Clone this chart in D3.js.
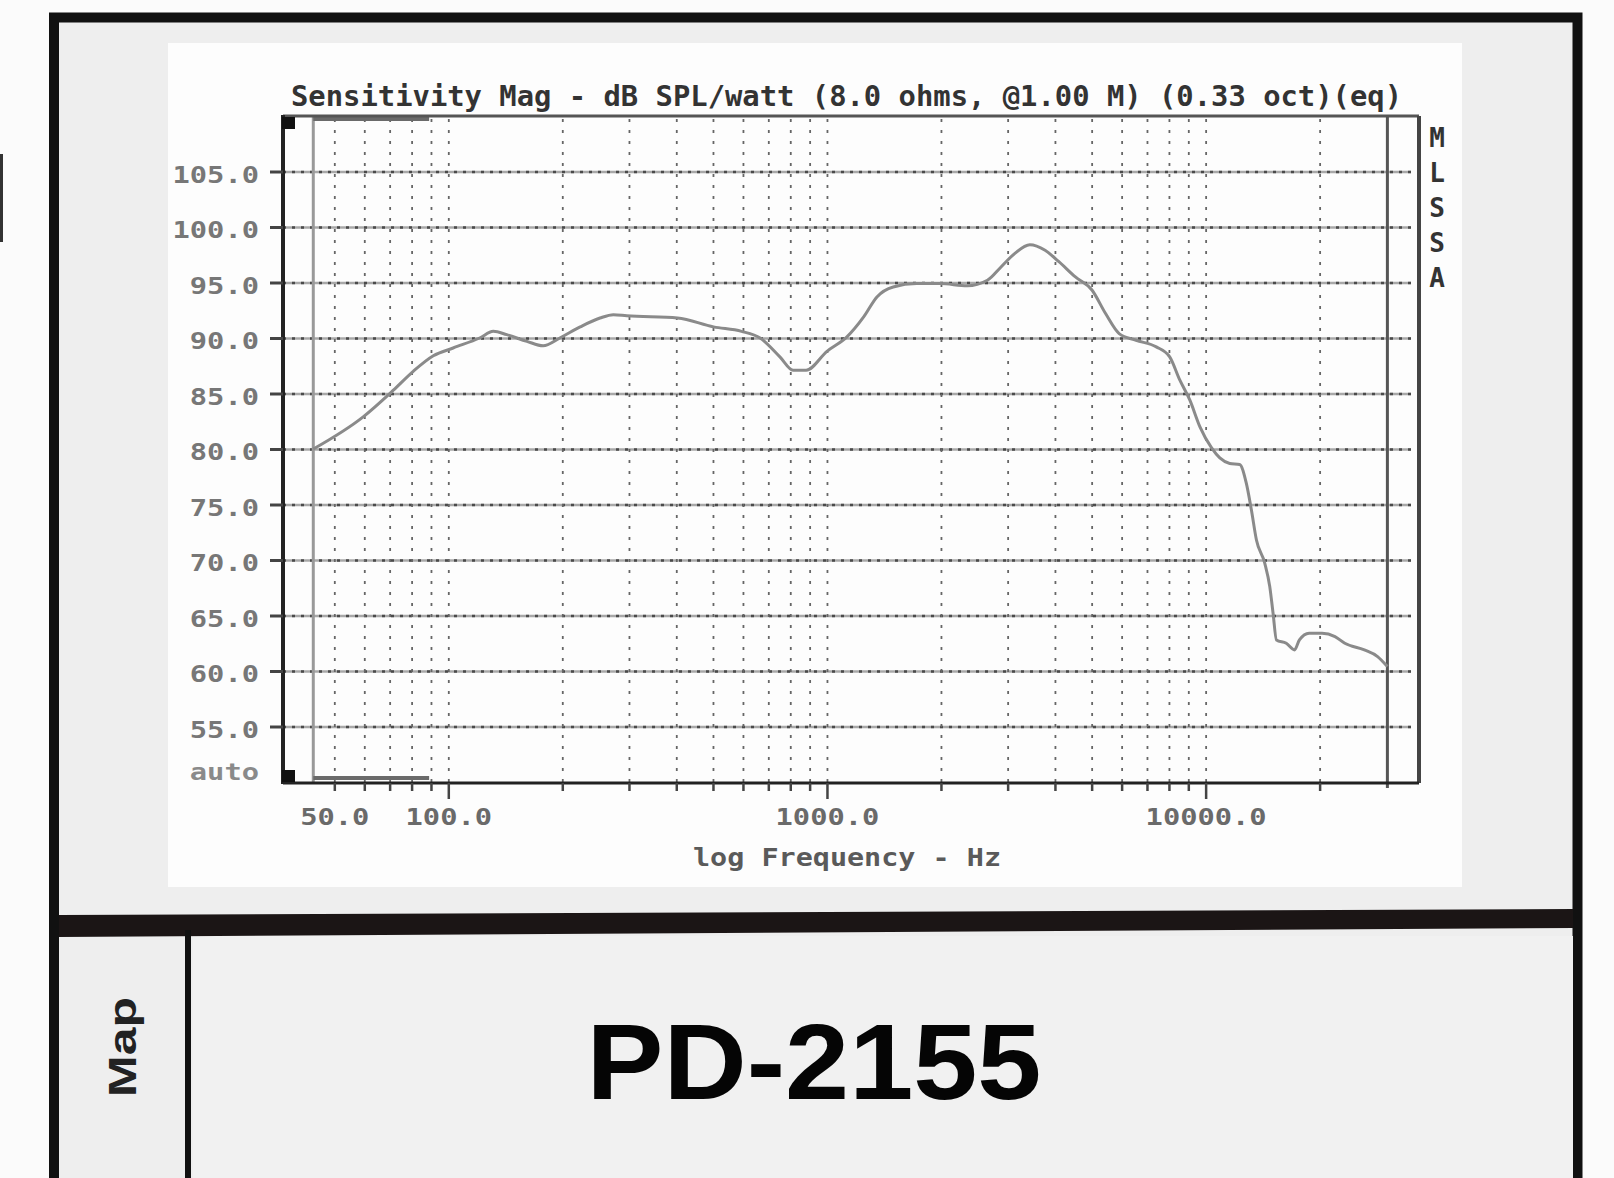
<!DOCTYPE html>
<html lang="en">
<head>
<meta charset="utf-8">
<title>PD-2155 Sensitivity</title>
<script src="https://d3js.org/d3.v7.min.js"></script>
<style>
  html, body { margin: 0; padding: 0; background: #fbfbfb; }
  svg { display: block; }
  .mono { font-family: "DejaVu Sans Mono", "Liberation Mono", monospace; font-weight: bold; }
  .sans { font-family: "Liberation Sans", Arial, sans-serif; font-weight: bold; }
</style>
</head>
<body>
<div id="chart"></div>
<script>
// sensitivity curve (Hz / dB SPL)
const freqHz = [44, 59.6, 71.6, 80.8, 91.3, 103, 121, 131.5, 142.7, 161.3, 178, 197, 223, 251.6, 273, 296,
  403, 502, 595, 666, 751, 814, 881, 1000, 1129, 1250, 1355, 1496, 1725, 1990, 2346, 2653, 2882,
  3130, 3434, 3767, 4090, 4530, 5015, 5442, 5910, 6550, 7408, 8037, 8550, 9086, 9660, 10370,
  10900, 11580, 12300, 12810, 13210, 13620, 14330, 14770, 15070, 15380, 16330, 17170, 17690,
  18760, 20300, 21960, 23310, 26250, 28450, 30200];
const splDb = [80.0, 82.9, 85.3, 87.0, 88.4, 89.1, 90.0, 90.6, 90.3, 89.7, 89.3, 90.0, 91.0, 91.8, 92.1, 92.0,
  91.8, 91.0, 90.6, 90.0, 88.3, 87.1, 87.1, 88.8, 90.1, 91.9, 93.7, 94.6, 94.9, 94.9, 94.7, 95.2, 96.4,
  97.6, 98.4, 97.9, 96.9, 95.5, 94.3, 92.2, 90.4, 89.8, 89.2, 88.3, 86.2, 84.4, 82.0, 80.1,
  79.2, 78.7, 78.6, 76.9, 74.5, 71.8, 69.7, 67.6, 65.2, 62.8, 62.5, 61.9, 62.8,
  63.4, 63.4, 63.1, 62.5, 61.9, 61.3, 60.4];

// grid and ticks
const gridFreqs = [50, 60, 70, 80, 90, 100, 200, 300, 400, 500, 600, 700, 800, 900,
  1000, 2000, 3000, 4000, 5000, 6000, 7000, 8000, 9000, 10000, 20000];
const freqLabels = [50, 100, 1000, 10000];
const decades = [100, 1000, 10000];
const dbTicks = [55, 60, 65, 70, 75, 80, 85, 90, 95, 100, 105];
const dataRange = [44, 30200];
const scrollMark = [44, 89];

const titleText = "Sensitivity Mag - dB SPL/watt (8.0 ohms, @1.00 M) (0.33 oct)(eq)";
const xTitle = "log Frequency - Hz";
const sideLetters = ["M", "L", "S", "S", "A"];
const modelName = "PD-2155";
const tabLabel = "Map";

const width = 1614, height = 1178;
const plotL = 283, plotR = 1419, plotT = 116, plotB = 782;
const charW = 17.3;

const svg = d3.select("#chart").append("svg")
  .attr("width", width).attr("height", height);

// page, frame and panels
svg.append("rect").attr("width", width).attr("height", height).attr("fill", "#fbfbfb");
svg.append("rect").attr("x", 0).attr("y", 154).attr("width", 3).attr("height", 88).attr("fill", "#333");
svg.append("rect")
  .attr("x", 54).attr("y", 17.5).attr("width", 1523.5).attr("height", 1300)
  .attr("fill", "#eeeeee").attr("stroke", "#111").attr("stroke-width", 10);
svg.append("rect")
  .attr("x", 168).attr("y", 43).attr("width", 1294).attr("height", 844)
  .attr("fill", "#fdfdfd");
svg.append("rect")
  .attr("x", 193).attr("y", 936).attr("width", 1380).attr("height", 250)
  .attr("fill", "#f1f1f1");
svg.append("polygon")
  .attr("points", "59,915 1573,909 1573,928 59,937")
  .attr("fill", "#1b1515");
svg.append("line")
  .attr("x1", 188).attr("x2", 188).attr("y1", 930).attr("y2", height)
  .attr("stroke", "#111").attr("stroke-width", 6);

svg.append("text")
  .attr("class", "sans")
  .attr("transform", "translate(136,1047) rotate(-90)")
  .attr("text-anchor", "middle")
  .attr("font-size", 38)
  .attr("textLength", 100).attr("lengthAdjust", "spacingAndGlyphs")
  .attr("fill", "#222")
  .text(tabLabel);

svg.append("text")
  .attr("class", "sans")
  .attr("x", 814).attr("y", 1099)
  .attr("text-anchor", "middle")
  .attr("font-size", 108)
  .attr("textLength", 455).attr("lengthAdjust", "spacingAndGlyphs")
  .attr("fill", "#050505")
  .text(modelName);

// scales
const x = d3.scaleLog().domain([36.6, 36600]).range([plotL, plotR]);
const y = d3.scaleLinear().domain([50, 110]).range([plotB, plotT]);

// horizontal grid
const hGrid = svg.append("g").attr("transform", `translate(${plotL},0)`)
  .call(d3.axisLeft(y).tickValues(dbTicks).tickSize(-(1411 - plotL)).tickFormat(""));
hGrid.select(".domain").remove();
hGrid.selectAll(".tick line").attr("stroke", "#a8a8a8").attr("stroke-width", 2.5);
const hDots = svg.append("g").attr("transform", `translate(${plotL},0)`)
  .call(d3.axisLeft(y).tickValues(dbTicks).tickSize(-(1411 - plotL)).tickFormat(""));
hDots.select(".domain").remove();
hDots.selectAll(".tick line").attr("stroke", "#4a4a4a").attr("stroke-width", 2.5)
  .attr("stroke-dasharray", "3,6");

// vertical grid
const vGrid = svg.append("g").attr("transform", `translate(0,${plotB})`)
  .call(d3.axisBottom(x).tickValues(gridFreqs).tickSize(-(plotB - plotT)).tickFormat(""));
vGrid.select(".domain").remove();
vGrid.selectAll(".tick line").attr("stroke", "#666").attr("stroke-width", 1.8)
  .attr("stroke-dasharray", "3,8");

// data range markers
svg.append("line").attr("x1", x(dataRange[0])).attr("x2", x(dataRange[0]))
  .attr("y1", plotT).attr("y2", plotB).attr("stroke", "#999").attr("stroke-width", 3);
svg.append("line").attr("x1", x(dataRange[1])).attr("x2", x(dataRange[1]))
  .attr("y1", plotT).attr("y2", plotB + 6).attr("stroke", "#555").attr("stroke-width", 3);
[plotT + 1, plotB - 6].forEach(yy => {
  svg.append("rect").attr("x", x(scrollMark[0])).attr("y", yy)
    .attr("width", x(scrollMark[1]) - x(scrollMark[0])).attr("height", 4)
    .attr("fill", "#6a6a6a");
});

// curve
const pts = freqHz.map((f, i) => ({ f: f, db: splDb[i] }));
svg.append("path")
  .datum(pts)
  .attr("fill", "none")
  .attr("stroke", "#8a8a8a")
  .attr("stroke-width", 3)
  .attr("stroke-linejoin", "round")
  .attr("d", d3.line().x(d => x(d.f)).y(d => y(d.db)).curve(d3.curveMonotoneX));

// frame
svg.append("line").attr("x1", plotL).attr("x2", plotR).attr("y1", plotT).attr("y2", plotT)
  .attr("stroke", "#555").attr("stroke-width", 3);
svg.append("line").attr("x1", plotR).attr("x2", plotR).attr("y1", plotT).attr("y2", plotB + 1)
  .attr("stroke", "#444").attr("stroke-width", 4);
svg.append("line").attr("x1", plotL).attr("x2", plotL).attr("y1", plotT - 1).attr("y2", plotB + 2)
  .attr("stroke", "#222").attr("stroke-width", 4);
svg.append("line").attr("x1", plotL).attr("x2", plotR).attr("y1", plotB + 1).attr("y2", plotB + 1)
  .attr("stroke", "#222").attr("stroke-width", 3);
svg.append("rect").attr("x", plotL - 1).attr("y", plotT + 1).attr("width", 13).attr("height", 12).attr("fill", "#111");
svg.append("rect").attr("x", plotL - 1).attr("y", plotB - 12).attr("width", 13).attr("height", 12).attr("fill", "#111");

// y axis
const yAxis = svg.append("g").attr("transform", `translate(${plotL},0)`)
  .call(d3.axisLeft(y).tickValues(dbTicks).tickSize(13).tickPadding(11).tickFormat(d3.format(".1f")));
yAxis.select(".domain").remove();
yAxis.selectAll(".tick line").attr("stroke", "#444").attr("stroke-width", 3);
yAxis.selectAll(".tick text")
  .attr("class", "mono")
  .attr("font-size", 23)
  .attr("fill", "#777")
  .attr("dy", "0.46em")
  .attr("textLength", function() { return this.textContent.length * charW; })
  .attr("lengthAdjust", "spacingAndGlyphs");
svg.append("text")
  .attr("class", "mono")
  .attr("x", plotL - 24).attr("y", y(50) - 2)
  .attr("text-anchor", "end")
  .attr("font-size", 23)
  .attr("fill", "#8a8a8a")
  .attr("textLength", 4 * charW).attr("lengthAdjust", "spacingAndGlyphs")
  .text("auto");

// x axis
const xAxis = svg.append("g").attr("transform", `translate(0,${plotB + 1})`)
  .call(d3.axisBottom(x).tickValues(gridFreqs).tickSize(8)
    .tickFormat(d => freqLabels.includes(d) ? d3.format(".1f")(d) : ""));
xAxis.select(".domain").remove();
xAxis.selectAll(".tick line")
  .attr("stroke", "#444").attr("stroke-width", 2.5)
  .attr("y2", d => decades.includes(d) ? 16 : 8);
xAxis.selectAll(".tick text")
  .attr("class", "mono")
  .attr("font-size", 23)
  .attr("fill", "#6a6a6a")
  .attr("y", 825 - plotB - 1).attr("dy", 0)
  .attr("textLength", function() { return this.textContent.length * charW; })
  .attr("lengthAdjust", "spacingAndGlyphs");

// titles
svg.append("text")
  .attr("class", "mono")
  .attr("x", 291).attr("y", 106)
  .attr("font-size", 29)
  .attr("fill", "#333")
  .attr("textLength", 1111).attr("lengthAdjust", "spacingAndGlyphs")
  .text(titleText);

svg.append("text")
  .attr("class", "mono")
  .attr("x", 847).attr("y", 866)
  .attr("text-anchor", "middle")
  .attr("font-size", 24)
  .attr("fill", "#5a5a5a")
  .attr("textLength", 308).attr("lengthAdjust", "spacingAndGlyphs")
  .text(xTitle);

svg.append("g").selectAll("text")
  .data(sideLetters)
  .enter()
  .append("text")
  .attr("class", "mono")
  .attr("x", 1437)
  .attr("y", (d, i) => 147 + i * 35.1)
  .attr("text-anchor", "middle")
  .attr("font-size", 26)
  .attr("fill", "#333")
  .text(d => d);
</script>
</body>
</html>
